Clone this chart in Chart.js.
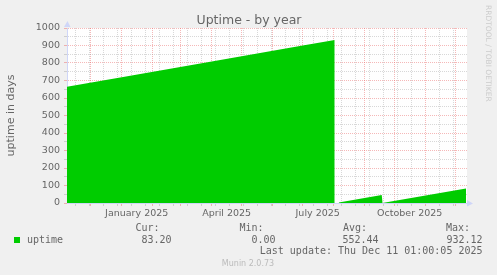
<!DOCTYPE html>
<html>
<head>
<meta charset="utf-8">
<script src="https://cdn.jsdelivr.net/npm/chart.js@4/dist/chart.umd.min.js"></script>
<style>
  html, body { margin: 0; padding: 0; background: #f0f0f0; }
  #wrap { width: 497px; height: 275px; }
</style>
</head>
<body>
<div id="wrap"><canvas id="myChart" width="497" height="275"></canvas></div>
<script>
// data (days of uptime)
const dates = ['2024-11-07', '2025-01-01', '2025-04-01', '2025-07-01', '2025-08-02', '2025-08-04',
    '2025-08-06', '2025-09-18', '2025-09-19', '2025-09-19T12:00', '2025-09-20', '2025-12-11T07:00'];
const uptime = [664, 719, 809, 900, 932.12, null, 3, 46, 0, null, 1, 83.2];

const monthLabels = ['January 2025', 'April 2025', 'July 2025', 'October 2025'];
const labelMonths = ['2025-01-16', '2025-04-16', '2025-07-16', '2025-10-16'];
const yTicks = [0, 100, 200, 300, 400, 500, 600, 700, 800, 900, 1000];

const statNames = ['Cur:', 'Min:', 'Avg:', 'Max:'];
const statValues = [83.20, 0.00, 552.44, 932.12];
const lastUpdate = 'Last update: Thu Dec 11 01:00:05 2025';

const START = Date.UTC(2024, 10, 7, 7);
const DAYS = 400;
const DAY = 86400000;

const GREEN = '#00cc00';
const RED = 'rgba(233, 97, 97, 0.45)';
const GRAY = 'rgba(143, 143, 143, 0.35)';
const AXIS = '#cfd6f8';
const FONT = '#666666';

function dayOf(s) {
    return (Date.parse(s.length == 10 ? s + 'T00:00Z' : s + 'Z') - START) / DAY;
}

const points = dates.map((d, i) => ({x: dayOf(d), y: uptime[i]}));

// month starts (red), two-weekly lines (gray), month labels
var tickKind = new Map();
var tickText = new Map();
for (let m = 11; m <= 23; m++) {
    const v = (Date.UTC(2024, m, 1) - START) / DAY;
    if (v > 0 && v < DAYS) tickKind.set(v, 'major');
}
for (let t = Date.UTC(2024, 10, 16); t < START + DAYS * DAY; t += 14 * DAY) {
    const v = (t - START) / DAY;
    if (!tickKind.has(v)) tickKind.set(v, 'minor');
}
labelMonths.forEach((d, i) => {
    const v = dayOf(d);
    tickKind.set(v, 'label');
    tickText.set(v, monthLabels[i]);
});
const xTickValues = Array.from(tickKind.keys()).sort((a, b) => a - b);

function gridColor(kind) {
    if (kind === 'major') return RED;
    if (kind === 'minor') return GRAY;
    return 'rgba(0,0,0,0)';
}

const paper = {
    id: 'paper',
    beforeDraw(chart) {
        const c = chart.ctx, a = chart.chartArea;
        c.save();
        c.fillStyle = '#f0f0f0';
        c.fillRect(0, 0, chart.width, chart.height);
        c.fillStyle = '#ffffff';
        c.fillRect(a.left, a.top, a.right - a.left, a.bottom - a.top);
        c.restore();
    },
    afterDraw(chart) {
        const c = chart.ctx, a = chart.chartArea;
        c.save();
        // axis arrows
        c.fillStyle = AXIS;
        c.beginPath();
        c.moveTo(a.left - 3, a.top - 1);
        c.lineTo(a.left + 3.5, a.top - 1);
        c.lineTo(a.left + 0.5, a.top - 7);
        c.fill();
        c.beginPath();
        c.moveTo(a.right, a.bottom - 3);
        c.lineTo(a.right, a.bottom + 3.5);
        c.lineTo(a.right + 6, a.bottom + 0.5);
        c.fill();

        // title
        c.fillStyle = FONT;
        c.font = '12.5px "DejaVu Sans"';
        c.textAlign = 'center';
        c.textBaseline = 'alphabetic';
        c.fillText('Uptime - by year', 249, 24);

        // legend
        c.fillStyle = GREEN;
        c.fillRect(14, 237, 6, 6);
        c.fillStyle = FONT;
        c.font = '10px "DejaVu Sans Mono"';
        c.textBaseline = 'middle';
        c.textAlign = 'left';
        c.fillText('uptime', 27, 240);
        c.textAlign = 'right';
        const headX = [159.5, 263.5, 367, 470];
        const valX = [171.5, 275.5, 378.5, 482.5];
        statNames.forEach((n, i) => {
            c.fillText(n, headX[i], 228);
            c.fillText(statValues[i].toFixed(2), valX[i], 240);
        });
        c.fillText(lastUpdate, 482.5, 251);

        c.fillStyle = '#bbbbbb';
        c.font = '8px "DejaVu Sans"';
        c.textAlign = 'center';
        c.fillText('Munin 2.0.73', 248, 264);

        // rrdtool watermark
        c.translate(488, 5);
        c.rotate(Math.PI / 2);
        c.fillStyle = '#cccccc';
        c.font = '7.5px "DejaVu Sans"';
        c.textAlign = 'left';
        c.fillText('RRDTOOL / TOBI OETIKER', 0, 0);
        c.restore();
    }
};

const ctx = document.getElementById('myChart').getContext('2d');
const myChart = new Chart(ctx, {
    type: 'line',
    data: {
        datasets: [{
            label: 'uptime',
            data: points,
            fill: 'origin',
            backgroundColor: GREEN,
            borderColor: GREEN,
            borderWidth: 0,
            pointRadius: 0,
            tension: 0,
            spanGaps: false
        }]
    },
    options: {
        responsive: false,
        animation: false,
        layout: {
            padding: {left: 0, top: 28, right: 30, bottom: 0}
        },
        plugins: {
            legend: {display: false},
            tooltip: {enabled: false}
        },
        scales: {
            x: {
                type: 'linear',
                min: 0,
                max: DAYS,
                afterBuildTicks: (scale) => {
                    scale.ticks = xTickValues.map(v => ({value: v}));
                },
                afterFit: (scale) => { scale.height = 72; },
                ticks: {
                    autoSkip: false,
                    maxRotation: 0,
                    minRotation: 0,
                    padding: 2,
                    color: FONT,
                    font: {family: 'DejaVu Sans', size: 9.5},
                    callback: (v) => tickText.get(v) || ''
                },
                grid: {
                    color: (c) => gridColor(tickKind.get(c.tick.value)),
                    tickColor: (c) => gridColor(tickKind.get(c.tick.value)),
                    tickLength: 3,
                    lineWidth: 1
                },
                border: {color: AXIS, width: 1, dash: [1, 1]}
            },
            y: {
                min: 0,
                max: 1000,
                afterBuildTicks: (scale) => {
                    const t = [];
                    for (let v = 0; v <= 1000; v += 50) t.push({value: v});
                    scale.ticks = t;
                },
                afterFit: (scale) => { scale.width = 67; },
                ticks: {
                    autoSkip: false,
                    padding: 4,
                    color: FONT,
                    font: {family: 'DejaVu Sans', size: 9.5},
                    callback: (v) => yTicks.includes(v) ? String(v) : ''
                },
                grid: {
                    color: (c) => c.tick.value === 0 ? 'rgba(0,0,0,0)' : (c.tick.value % 100 === 0 ? RED : GRAY),
                    tickColor: (c) => c.tick.value % 100 === 0 ? RED : GRAY,
                    tickLength: 3,
                    lineWidth: 1
                },
                border: {color: AXIS, width: 1, dash: [1, 1]},
                title: {
                    display: true,
                    text: 'uptime in days',
                    color: FONT,
                    font: {family: 'DejaVu Sans', size: 11, lineHeight: 1.2},
                    padding: {top: 5, bottom: 0}
                }
            }
        }
    },
    plugins: [paper]
});
</script>
</body>
</html>
